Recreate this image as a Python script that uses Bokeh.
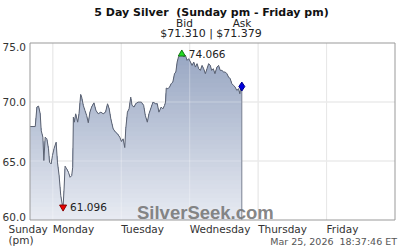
import numpy as np
from bokeh.plotting import figure
from bokeh.models import Range1d, Label
from bokeh.core.properties import value
from bokeh.embed import file_html
from bokeh.resources import INLINE

# hours since Sunday 00:00 ET
hours = [16.0, 17.84, 18.42, 19.0, 19.58, 19.93, 20.51, 20.86, 21.33, 21.91,
         22.49, 22.84, 23.42, 23.88, 24.47, 25.16, 25.63, 26.21, 26.79, 27.37,
         27.60, 27.95, 28.30, 28.88, 29.47, 30.05, 30.63, 30.98, 31.21, 31.56,
         32.02, 32.72, 33.19, 33.77, 34.12, 34.70, 35.28, 35.86, 36.44, 37.02,
         37.60, 38.42, 39.12, 39.93, 40.86, 41.67, 42.49, 43.19, 43.77, 44.35,
         45.16, 45.98, 46.67, 47.49, 48.07, 48.65, 49.23, 49.58, 50.16, 50.74,
         51.33, 51.79, 52.49, 53.07, 53.88, 55.05, 55.86, 56.44, 57.14, 57.72,
         58.53, 59.12, 60.05, 60.63, 61.21, 62.02, 62.60, 63.19, 63.53, 63.77,
         64.35, 64.93, 65.51, 66.09, 66.67, 67.14, 67.60, 68.07, 68.77, 69.23,
         69.93, 70.51, 71.09, 71.67, 72.26, 72.84, 73.42, 74.00, 74.58, 75.16,
         75.74, 76.33, 76.91, 77.49, 78.07, 78.65, 79.23, 79.70, 80.28, 80.86,
         81.56, 82.14, 82.72, 83.30, 83.88, 84.47, 85.05, 85.63, 86.21, 86.79,
         87.37, 87.95, 88.53, 89.12, 89.58, 89.93, 90.28]
prices = [67.92, 67.92, 69.57, 69.65, 69.00, 67.58, 67.02, 65.04, 67.02, 66.88,
          66.03, 64.90, 64.75, 65.46, 66.08, 66.59, 64.90, 63.76, 62.06, 61.22,
          61.096, 62.63, 64.56, 64.33, 64.05, 63.62, 63.76, 64.47, 68.72, 68.29,
          69.00, 68.29, 69.00, 70.64, 70.41, 69.71, 69.28, 68.86, 68.24, 69.14,
          69.57, 69.93, 69.28, 69.00, 69.14, 69.00, 69.14, 69.85, 69.42, 68.57,
          67.73, 67.44, 67.30, 67.02, 66.65, 66.88, 66.14, 67.73, 69.14, 69.42,
          70.41, 69.71, 69.57, 69.85, 69.99, 69.99, 69.71, 68.86, 68.29, 69.00,
          69.57, 69.99, 69.85, 69.85, 69.14, 69.57, 69.42, 69.71, 69.99, 71.18,
          71.12, 71.26, 71.55, 71.69, 72.40, 72.54, 73.39, 73.81, 74.01, 74.066,
          73.81, 73.95, 73.53, 73.67, 73.39, 73.10, 73.39, 72.96, 73.25, 72.82,
          72.68, 73.10, 72.82, 72.40, 72.82, 73.25, 73.10, 72.68, 72.82, 72.40,
          72.96, 73.10, 72.68, 72.68, 72.54, 72.54, 72.40, 72.11, 71.97, 71.55,
          71.41, 71.26, 70.98, 71.12, 70.70, 71.26, 71.31]

day_ticks = [24, 48, 72, 96, 120]
day_labels = ["Monday", "Tuesday", "Wednesday", "Thursday", "Friday"]
first_label = ["Sunday", "(pm)"]
y_ticks = [60, 65, 70, 75]
y_labels = ["60.0", "65.0", "70.0", "75.0"]
bid = 71.310
ask = 71.379
title_text = "5 Day Silver \u00a0(Sunday pm - Friday pm)"
stamp = "Mar 25, 2026 \u00a018:37:46 ET"

# plot window (hours / price)
X0, X1, Y0, Y1 = 16, 144, 60, 75

# ---- layout (pixels) ----
W, H = 400, 250
FL, FR, FT, FB = 29.5, 394.5, 42.5, 219.5
kx = (FR - FL) / (X1 - X0)
ky = (FB - FT) / (Y1 - Y0)
xs = X0 - FL / kx
xe = xs + W / kx
ye = Y1 + FT / ky
ys = ye - H / ky


def px(xp):
    return xs + xp / kx


def py(yp):
    return ye - yp / ky


FONT = "DejaVu Sans"
TXT = "#333333"

p = figure(width=W, height=H, x_range=Range1d(xs, xe), y_range=Range1d(ys, ye),
           output_backend="svg", toolbar_location=None, title=None,
           x_axis_location=None, y_axis_location=None,
           min_border=0, min_border_left=0, min_border_right=0,
           min_border_top=0, min_border_bottom=0)
p.outline_line_color = None
p.background_fill_color = "white"
p.border_fill_color = "white"
p.grid.visible = False

GRID = "#dddddd"
# grid under the area
p.segment(x0=day_ticks, y0=Y0, x1=day_ticks, y1=Y1, line_color=GRID, line_width=1)
p.segment(x0=X0, y0=y_ticks[1:-1], x1=X1, y1=y_ticks[1:-1], line_color=GRID, line_width=1)

# gradient area (layered)
h = np.array(hours)
v = np.array(prices)
top_rgb = np.array([0x94, 0xa3, 0xc0])
bot_rgb = np.array([0xe9, 0xec, 0xf3])
for lvl in np.linspace(Y1, Y0, 41):
    t = (lvl - Y0) / (Y1 - Y0)
    c = bot_rgb + (top_rgb - bot_rgb) * t
    col = "#%02x%02x%02x" % tuple(int(round(k)) for k in c)
    p.varea(x=h, y1=np.minimum(v, lvl), y2=Y0, fill_color=col)

# faint grid over the area
p.segment(x0=day_ticks, y0=Y0, x1=day_ticks, y1=Y1, line_color="#ffffff",
          line_alpha=0.3, line_width=1)
p.segment(x0=X0, y0=y_ticks[1:-1], x1=X1, y1=y_ticks[1:-1], line_color="#ffffff",
          line_alpha=0.3, line_width=1)

# price line and right edge
p.line(x=h, y=v, line_color="#5b6272", line_width=1)
p.segment(x0=[hours[-1]], y0=[Y0], x1=[hours[-1]], y1=[prices[-1]],
          line_color="#7d8494", line_width=1)

# plot border
p.quad(left=[X0], right=[X1], bottom=[Y0], top=[Y1], fill_color=None,
       line_color="#999999", line_width=1)

# markers
imax = int(np.argmax(v))
imin = int(np.argmin(v))
p.scatter([hours[imax]], [prices[imax]], marker="triangle", size=7,
          fill_color="#22dd22", line_color="#117711", line_width=1)
p.scatter([hours[imin]], [prices[imin]], marker="inverted_triangle", size=7,
          fill_color="#ee0000", line_color="#880000", line_width=1)
p.scatter([hours[-1]], [prices[-1]], marker="diamond", size=9,
          fill_color="#0000dd", line_color="#000088", line_width=1)

for i in (imax, imin):
    p.add_layout(Label(x=hours[i], y=prices[i], text=f"{prices[i]:.3f}",
                       x_offset=7, text_baseline="middle", text_font=FONT,
                       text_font_size="10.5px", text_color="#222222"))

# watermark
p.add_layout(Label(x=px(136.5), y=py(212), text="SilverSeek.com",
                   text_baseline="middle", text_font="Liberation Sans",
                   text_font_style="bold", text_font_size="18.5px",
                   text_color="#767676", text_alpha=0.9))

# y tick labels
p.text(x=[X0] * len(y_ticks), y=y_ticks, text=y_labels,
       x_offset=-4, y_offset=[-3.5, 0.5, 0.4, 4],
       text_align="right", text_baseline="middle", text_font=value(FONT),
       text_font_size="10.5px", text_color=TXT)

# x tick labels
p.text(x=day_ticks, y=[Y0] * len(day_ticks), text=day_labels,
       y_offset=8.5, text_align="left", text_baseline="middle",
       text_font=value(FONT), text_font_size="10.5px", text_color=TXT)
p.add_layout(Label(x=px(8), y=py(228), text=first_label[0], text_baseline="middle",
                   text_font=FONT, text_font_size="10.5px", text_color=TXT))
p.add_layout(Label(x=px(8), y=py(239), text=first_label[1], text_baseline="middle",
                   text_font=FONT, text_font_size="10.5px", text_color=TXT))

# titles
p.add_layout(Label(x=px(211), y=py(12), text=title_text, text_align="center",
                   text_baseline="middle", text_font=FONT, text_font_style="bold",
                   text_font_size="11px", text_color="#111111"))
p.add_layout(Label(x=px(184), y=py(22.5), text="Bid", text_align="center",
                   text_baseline="middle", text_font=FONT, text_font_size="10.5px",
                   text_color="#222222"))
p.add_layout(Label(x=px(241.5), y=py(22.5), text="Ask", text_align="center",
                   text_baseline="middle", text_font=FONT, text_font_size="10.5px",
                   text_color="#222222"))
p.add_layout(Label(x=px(210.5), y=py(32.5), text=f"${bid:.3f} | ${ask:.3f}",
                   text_align="center", text_baseline="middle", text_font=FONT,
                   text_font_size="11px", text_color="#222222"))

# timestamp
p.add_layout(Label(x=px(396.5), y=py(241), text=stamp, text_align="right",
                   text_baseline="middle", text_font=FONT, text_font_size="9.5px",
                   text_color="#555555"))

open("out.html", "w").write(file_html(p, INLINE))
